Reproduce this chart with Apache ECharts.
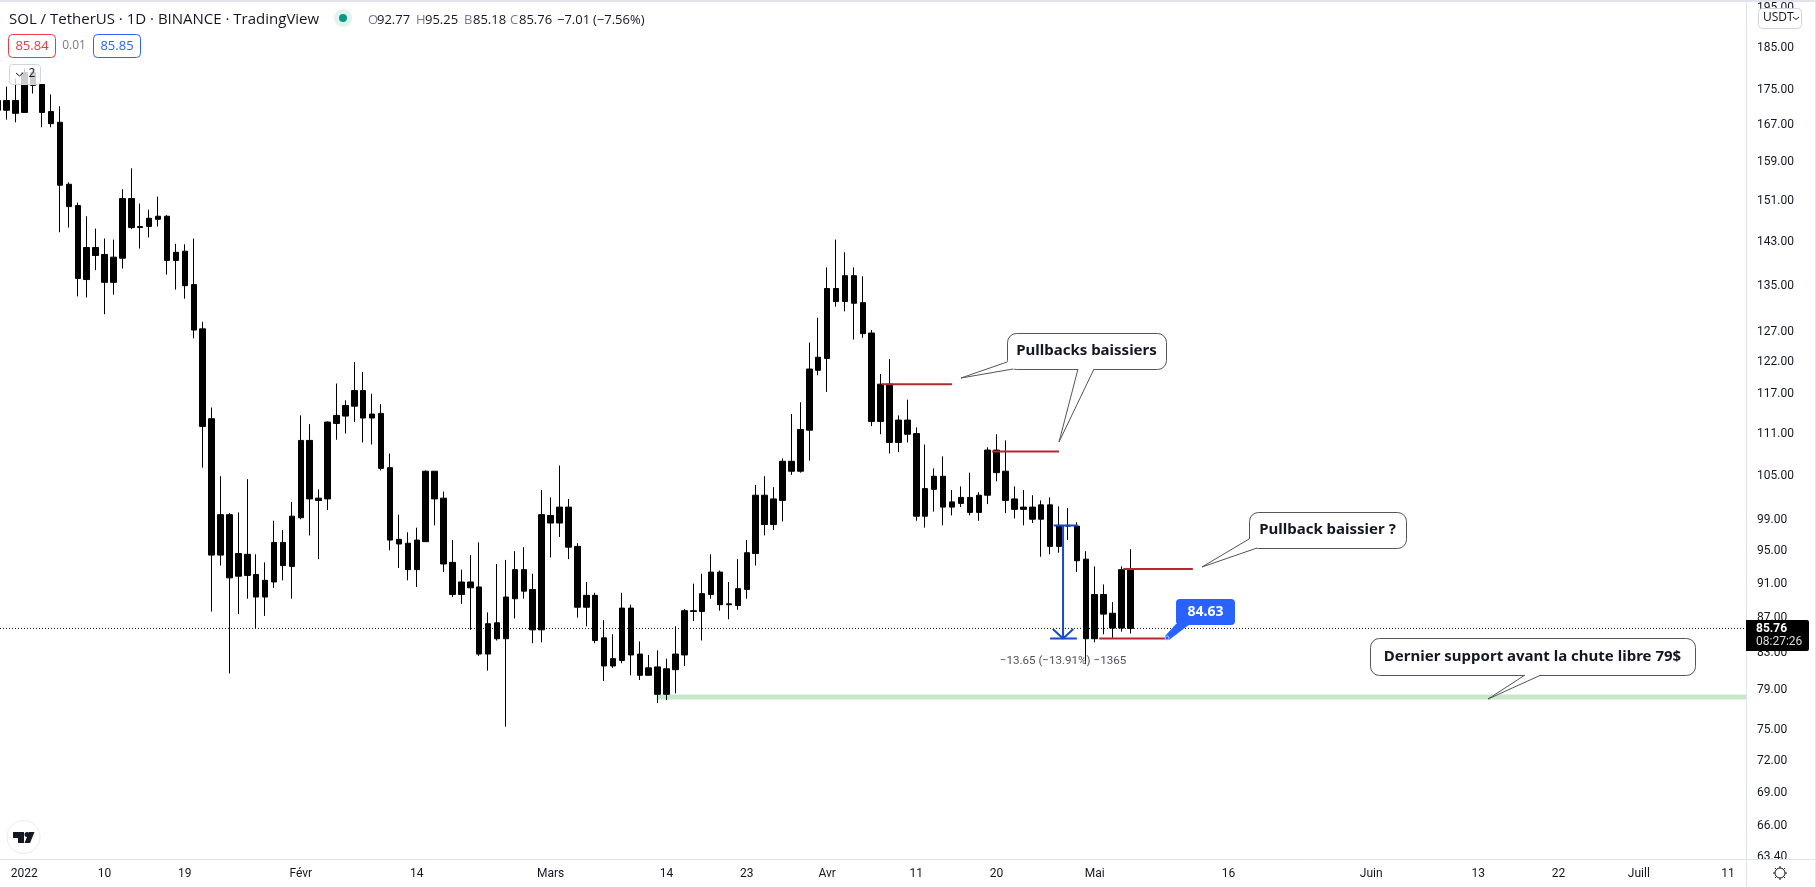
<!DOCTYPE html>
<html>
<head>
<meta charset="utf-8">
<title>SOL / TetherUS</title>
<style>
  html, body { margin: 0; padding: 0; background: #fff; }
  #chart { width: 1816px; height: 887px; }
</style>
<script src="https://cdn.jsdelivr.net/npm/echarts@6/dist/echarts.min.js"></script>
</head>
<body>
<div id="chart"></div>
<script>
// days are counted from 1 Jan 2022, first visible candle is 29 Dec 2021
let firstDay = -3
let opens = [
  170.3, 172.5, 169.6, 169.8, 179.0, 176.2, 170.0, 167.6, 154.4, 150.1, 136.1, 142.0, 140.7, 135.6, 140.0, 151.5,
  145.8, 146.0, 147.4, 148.0, 139.6, 141.3, 135.2, 127.5, 113.2, 94.5, 99.7, 91.9, 94.6, 92.1, 89.4, 91.2,
  96.1, 93.1, 99.3, 110.0, 101.9, 101.8, 112.5, 113.6, 115.1, 117.5, 113.3, 114.0, 106.1, 96.5, 96.0, 92.7,
  96.2, 105.6, 101.9, 93.6, 89.7, 91.2, 90.6, 82.9, 86.4, 84.6, 89.2, 92.7, 90.3, 85.6, 99.6, 98.6,
  100.7, 95.6, 88.2, 89.6, 84.7, 81.6, 82.2, 88.1, 82.9, 80.6, 81.5, 78.6, 81.2, 82.8, 87.8, 87.7,
  89.7, 92.4, 88.5, 88.4, 90.3, 94.7, 102.3, 98.4, 101.6, 107.0, 105.6, 111.5, 120.7, 122.6, 134.5, 132.2,
  136.8, 132.0, 126.8, 112.8, 118.5, 109.7, 113.0, 111.0, 99.5, 103.1, 104.9, 100.7, 101.2, 102.0, 100.0, 102.3,
  108.6, 105.6, 101.8, 100.4, 100.7, 99.1, 101.0, 95.6, 98.3, 98.2, 94.0, 84.6, 89.7, 87.5, 85.8, 92.77
]
let closes = [
  172.5, 170.3, 172.5, 179.0, 176.0, 169.8, 167.3, 154.2, 149.9, 136.3, 142.0, 140.5, 135.6, 140.2, 151.5, 145.8,
  146.0, 147.6, 148.0, 139.6, 141.1, 135.0, 127.3, 112.05, 94.5, 99.7, 91.7, 94.7, 92.0, 89.4, 91.4, 96.1,
  93.2, 99.5, 110.0, 101.8, 101.6, 112.7, 113.7, 115.2, 117.5, 113.3, 113.9, 106.0, 96.4, 95.9, 92.7, 96.4,
  105.6, 101.8, 93.4, 89.7, 91.2, 90.5, 82.9, 86.3, 84.6, 89.4, 92.7, 90.1, 85.6, 99.7, 98.6, 100.7,
  95.5, 88.2, 89.6, 84.4, 81.6, 82.4, 88.1, 82.8, 80.6, 81.4, 78.6, 81.3, 82.9, 87.8, 87.7, 89.8,
  92.4, 88.5, 88.6, 90.4, 94.8, 102.3, 98.4, 101.8, 107.0, 105.6, 111.6, 120.9, 122.8, 134.5, 132.2, 136.8,
  131.9, 126.7, 112.8, 118.5, 109.7, 113.0, 110.9, 99.5, 103.2, 104.9, 100.7, 101.4, 102.0, 100.0, 102.3, 108.6,
  105.4, 101.6, 100.4, 100.7, 99.1, 101.0, 95.6, 98.3, 98.2, 93.8, 84.6, 89.7, 87.4, 85.8, 92.7, 85.76
]
let lows = [
  170.3, 168.2, 167.6, 169.8, 174.1, 166.5, 166.5, 144.9, 145.8, 133.1, 132.9, 137.8, 130.0, 133.4, 138.1, 145.5,
  141.8, 143.9, 146.0, 137.0, 134.3, 132.7, 125.9, 106.1, 87.7, 93.2, 80.8, 87.4, 89.2, 85.8, 87.2, 90.5,
  91.4, 89.2, 99.1, 97.0, 94.0, 100.3, 110.1, 111.0, 112.7, 109.7, 109.4, 105.7, 95.1, 92.9, 91.4, 90.6,
  96.2, 98.3, 92.4, 89.4, 88.6, 85.6, 82.7, 81.1, 84.4, 75.3, 86.9, 89.2, 84.1, 84.2, 94.2, 96.8,
  94.0, 87.0, 86.0, 84.1, 80.0, 81.4, 81.9, 80.6, 80.1, 80.6, 77.7, 78.0, 78.7, 81.6, 86.6, 84.4,
  89.2, 87.8, 86.8, 87.9, 89.2, 93.2, 97.0, 97.7, 98.8, 105.1, 105.4, 107.1, 119.9, 117.3, 131.3, 130.5,
  125.7, 126.0, 112.1, 110.9, 108.1, 108.3, 109.7, 98.9, 98.0, 100.1, 98.3, 99.6, 100.7, 99.6, 98.9, 101.1,
  104.2, 99.9, 99.2, 98.3, 98.6, 94.3, 94.6, 94.8, 96.4, 92.4, 81.8, 84.2, 85.1, 84.7, 85.4, 85.18
]
let highs = [
  177.1, 175.7, 177.6, 180.0, 179.8, 176.2, 173.9, 171.2, 154.8, 150.7, 148.0, 145.6, 143.7, 143.5, 153.4, 157.7,
  150.5, 149.3, 151.9, 148.2, 142.7, 142.6, 143.7, 128.7, 114.9, 104.9, 99.9, 100.0, 104.5, 94.6, 93.6, 98.9,
  97.7, 101.4, 113.7, 112.4, 103.1, 112.8, 118.6, 116.0, 122.0, 120.4, 117.0, 115.4, 108.1, 99.7, 97.4, 98.0,
  105.7, 105.6, 102.8, 96.4, 92.7, 94.5, 96.1, 87.6, 93.4, 93.9, 95.0, 95.5, 92.2, 103.0, 102.0, 106.4,
  101.8, 96.0, 91.2, 89.9, 86.7, 85.1, 89.9, 88.5, 84.3, 82.8, 83.3, 82.4, 86.0, 88.0, 91.0, 92.2,
  94.6, 92.6, 91.2, 94.0, 96.4, 103.7, 104.9, 103.4, 107.4, 113.9, 115.7, 125.2, 129.4, 138.3, 143.5, 141.1,
  138.3, 136.7, 127.3, 120.1, 122.5, 113.7, 116.1, 111.9, 109.4, 106.0, 107.7, 103.0, 103.5, 105.4, 102.7, 109.0,
  110.9, 110.0, 103.5, 103.0, 102.3, 101.6, 102.0, 100.8, 100.6, 98.7, 95.0, 93.1, 90.9, 88.8, 93.1, 95.25
]

let tickPrices = [195, 185, 175, 167, 159, 151, 143, 135, 127, 122, 117, 111, 105, 99, 95, 91, 87, 83, 79, 75, 72, 69, 66, 63.4]
let tickDays = [0, 9, 18, 31, 44, 59, 72, 81, 90, 100, 109, 120, 135, 151, 163, 172, 181, 191]
let tickLabels = ['2022', '10', '19', 'Févr', '14', 'Mars', '14', '23', 'Avr', '11', '20', 'Mai', '16', 'Juin', '13', '22', 'Juill', '11']

let dayMin = -2.72
let dayMax = 193.01
let lastPrice = 85.76
let supportLine = [[70.9, 78.33], [dayMax, 78.33]]
let redLines = [
  [[96.15, 118.5], [104, 118.5]],
  [[108.5, 108.4], [116, 108.4]],
  [[123.2, 92.77], [131, 92.77]],
  [[120.5, 84.63], [128.1, 84.63]]
]
let blueLines = [
  [[115.4, 98.28], [118.1, 98.28]],
  [[116.45, 98.28], [116.45, 84.63]],
  [[115, 84.63], [118, 84.63]],
  [[115.3, 85.7], [116.45, 84.63], [117.6, 85.7]]
]

let candles = opens.map((o, i) => [firstDay + i, o, closes[i], lows[i], highs[i]])

function lineSeries (data, color, width, z, type) {
  return {
    type: 'line',
    data: data,
    symbol: 'none',
    silent: true,
    z: z,
    lineStyle: { color: color, width: width, type: type || 'solid' }
  }
}

let series = [
  lineSeries([[dayMin, lastPrice], [dayMax, lastPrice]], '#131722', 1, 1, [1, 2]),
  lineSeries(supportLine, '#c8e6c9', 5, 1),
  {
    type: 'candlestick',
    data: candles,
    encode: { x: 0, y: [1, 2, 3, 4] },
    barWidth: 6,
    z: 2,
    itemStyle: {
      color: '#000',
      color0: '#000',
      borderColor: '#000',
      borderColor0: '#000',
      borderWidth: 1
    }
  }
]
redLines.forEach(l => series.push(lineSeries(l, '#b22833', 2, 3)))
blueLines.forEach(l => series.push(lineSeries(l, '#1848cc', 2, 4)))

// text items of the legend line
let headerItems = [
  { x: 368, label: 'O', value: '92.77' },
  { x: 416, label: 'H', value: '95.25' },
  { x: 464, label: 'B', value: '85.18' },
  { x: 510, label: 'C', value: '85.76' },
  { x: 557, label: '', value: '−7.01' },
  { x: 593, label: '', value: '(−7.56%)' }
]

function text (x, y, str, size, color, extra) {
  return {
    type: 'text',
    z: 100,
    style: Object.assign({
      x: x,
      y: y,
      text: str,
      fill: color,
      font: size + 'px "Open Sans", sans-serif',
      verticalAlign: 'middle'
    }, extra || {})
  }
}

function box (x, y, w, h, r, fill, stroke) {
  return {
    type: 'rect',
    z: 100,
    shape: { x: x, y: y, width: w, height: h, r: r },
    style: { fill: fill, stroke: stroke, lineWidth: 1 }
  }
}

// box with one or more tails, a tail is [base, tip, base]
function callout (x, y, w, h, label, tails) {
  let els = [box(x + 0.5, y + 0.5, w, h, 9, '#fff', '#555')]
  let cx = x + w / 2
  let cy = y + h / 2
  tails.forEach(t => {
    let push = p => {
      let dx = cx - p[0]
      let dy = cy - p[1]
      let d = Math.sqrt(dx * dx + dy * dy)
      return [p[0] + dx / d * 2, p[1] + dy / d * 2]
    }
    els.push({
      type: 'polygon',
      z: 100,
      shape: { points: [t[0], t[1], t[2], push(t[2]), push(t[0])] },
      style: { fill: '#fff' }
    })
    els.push({
      type: 'polyline',
      z: 100,
      shape: { points: t },
      style: { fill: null, stroke: '#555', lineWidth: 1 }
    })
  })
  els.push(text(cx, cy, label, 15, '#131722', {
    font: 'bold 15px "Noto Sans", sans-serif',
    align: 'center'
  }))
  return els
}

let graphics = [
  // page frame
  { type: 'rect', z: 50, shape: { x: 1747, y: 860, width: 68, height: 27 }, style: { fill: '#fff' } },
  { type: 'rect', z: 100, shape: { x: 0, y: 0, width: 1816, height: 2 }, style: { fill: '#e0e3eb' } },
  { type: 'rect', z: 100, shape: { x: 1815, y: 0, width: 1, height: 887 }, style: { fill: '#e0e3eb' } },
  { type: 'rect', z: 100, shape: { x: 1746, y: 859, width: 69, height: 1 }, style: { fill: '#e0e3eb' } },
  { type: 'rect', z: 100, shape: { x: 1746, y: 859, width: 1, height: 28 }, style: { fill: '#e0e3eb' } },

  // title line
  text(9, 20, 'SOL / TetherUS · 1D · BINANCE · TradingView', 15, '#131722'),
  { type: 'circle', z: 100, shape: { cx: 343, cy: 18, r: 9 }, style: { fill: '#e0f3ef' } },
  { type: 'circle', z: 100, shape: { cx: 343, cy: 18, r: 4 }, style: { fill: '#089981' } },

  // bid / ask
  box(8.5, 34.5, 47, 23, 4, '#fff', '#f23645'),
  text(32, 46, '85.84', 13, '#f23645', { align: 'center' }),
  text(74, 46, '0.01', 12, '#787b86', { align: 'center' }),
  box(93.5, 34.5, 47, 23, 4, '#fff', '#2962ff'),
  text(117, 46, '85.85', 13, '#2962ff', { align: 'center' }),

  // collapsed indicators button
  { type: 'rect', z: 100, shape: { x: 9.5, y: 64.5, width: 31, height: 20, r: 3 }, style: { fill: 'rgba(255,255,255,0.8)', stroke: '#d1d4dc', lineWidth: 1 } },
  { type: 'polyline', z: 100, shape: { points: [[16, 73], [19.5, 76], [23, 73]] }, style: { fill: null, stroke: '#131722', lineWidth: 1 } },
  text(32, 74, '2', 12, '#131722', { align: 'center' }),

  // currency button
  box(1758.5, 8.5, 43, 20, 4, '#fff', '#d1d4dc'),
  text(1763, 18, 'USDT', 12, '#131722'),
  { type: 'polyline', z: 100, shape: { points: [[1793, 17], [1796, 19.5], [1799, 17]] }, style: { fill: null, stroke: '#131722', lineWidth: 1 } },

  // last price tag
  { type: 'rect', z: 100, shape: { x: 1746, y: 620, width: 63, height: 31, r: [0, 2, 2, 0] }, style: { fill: '#000' } },
  text(1756, 629, '85.76', 12, '#fff', { font: 'bold 12px Roboto, sans-serif' }),
  text(1756, 642, '08:27:26', 12, '#ddd', { font: '12px Roboto, sans-serif' }),

  // measure label
  text(1063, 661, '−13.65 (−13.91%) −1365', 12, '#50535e', { align: 'center', font: '11.6px Roboto, sans-serif' }),

  // price note
  { type: 'polygon', z: 100, shape: { points: [[1176, 624], [1190, 624], [1169, 640], [1165, 636]] }, style: { fill: '#2962ff' } },
  { type: 'rect', z: 100, shape: { x: 1176, y: 599, width: 59, height: 26, r: 4 }, style: { fill: '#2962ff' } },
  { type: 'circle', z: 100, shape: { cx: 1167, cy: 638, r: 2 }, style: { fill: '#2962ff', stroke: '#b8c9ff', lineWidth: 1 } },
  text(1205.5, 612, '84.63', 14, '#fff', { align: 'center', font: 'bold 14px "Noto Sans", sans-serif' }),

  // logo
  { type: 'circle', z: 100, shape: { cx: 23.5, cy: 837, r: 16.5 }, style: { fill: '#fff', stroke: '#ebebeb', lineWidth: 1 } },
  { type: 'polygon', z: 100, shape: { points: [[13, 832], [24, 832], [24, 843], [18, 843], [18, 838], [13, 838]] }, style: { fill: '#131722' } },
  { type: 'circle', z: 100, shape: { cx: 27, cy: 834.5, r: 2.5 }, style: { fill: '#131722' } },
  { type: 'polygon', z: 100, shape: { points: [[29, 832], [34.5, 832], [30, 843], [24.5, 843]] }, style: { fill: '#131722' } },

  // settings icon
  { type: 'circle', z: 100, shape: { cx: 1780, cy: 873, r: 5 }, style: { fill: '#fff', stroke: '#131722', lineWidth: 1 } }
]

for (let i = 0; i < 8; i++) {
  let a = i * Math.PI / 4
  graphics.push({
    type: 'line',
    z: 100,
    shape: {
      x1: 1780 + Math.cos(a) * 5,
      y1: 873 + Math.sin(a) * 5,
      x2: 1780 + Math.cos(a) * 7,
      y2: 873 + Math.sin(a) * 7
    },
    style: { stroke: '#131722', lineWidth: 1 }
  })
}

headerItems.forEach(h => {
  let off = 0
  if (h.label) {
    graphics.push(text(h.x, 20, h.label, 13, '#787b86'))
    off = 9
  }
  graphics.push(text(h.x + off, 20, h.value, 13, '#131722'))
})

graphics = graphics.concat(
  callout(1007, 333, 159, 36, 'Pullbacks baissiers', [
    [[1007, 362], [961, 378], [1013, 369]],
    [[1078, 369], [1059, 442], [1094, 369]]
  ]),
  callout(1249, 512, 157, 36, 'Pullback baissier ?', [
    [[1249, 539], [1202, 567], [1257, 548]]
  ]),
  callout(1370, 638, 325, 37, 'Dernier support avant la chute libre 79$', [
    [[1525, 675], [1488, 699], [1541, 675]]
  ])
)

let myChart = echarts.init(document.getElementById('chart'))
myChart.setOption({
  animation: false,
  backgroundColor: '#fff',
  grid: { left: 0, right: 70, top: 2.5, bottom: 27.5 },
  xAxis: {
    type: 'value',
    min: dayMin,
    max: dayMax,
    splitLine: { show: false },
    axisTick: { show: false },
    axisLine: { show: true, onZero: false, lineStyle: { color: '#e0e3eb' } },
    axisLabel: {
      customValues: tickDays,
      margin: 8,
      color: '#131722',
      fontFamily: 'Roboto, sans-serif',
      fontSize: 12,
      formatter: v => tickLabels[tickDays.indexOf(v)]
    }
  },
  yAxis: {
    type: 'log',
    logBase: 10,
    position: 'right',
    min: 63.16,
    max: 196.4,
    splitLine: { show: false },
    axisTick: { show: false },
    axisLine: { show: true, onZero: false, lineStyle: { color: '#e0e3eb' } },
    axisLabel: {
      customValues: tickPrices,
      margin: 11,
      color: '#131722',
      fontFamily: 'Roboto, sans-serif',
      fontSize: 12,
      formatter: v => Number(v).toFixed(2)
    }
  },
  series: series,
  graphic: graphics
})
</script>
</body>
</html>
